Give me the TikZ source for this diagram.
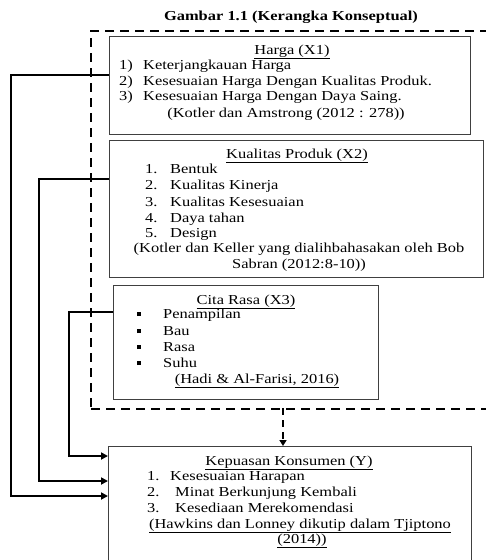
\documentclass[tikz,border=0pt]{standalone}
\usepackage{fontspec}
\setmainfont[FakeStretch=1.2]{Liberation Serif}
\usetikzlibrary{arrows.meta,calc}
\tikzset{
  box/.style={draw=black!75, line width=0.9pt, rectangle, inner sep=0pt, anchor=north west},
  grpbox/.style={draw=black, line width=2pt, dash pattern=on 9pt off 6pt, rectangle, inner sep=0pt, anchor=north west},
  conn/.style={draw=black, line width=2pt, -{Triangle[length=7pt,width=7pt]}},
  dconn/.style={draw=black, line width=2pt, dash pattern=on 7pt off 5pt, -{Triangle[length=6pt,width=7pt]}},
  tl/.style={inner sep=0pt, anchor=base west, font=\fontsize{13.7}{15.5}\selectfont},
  tc/.style={inner sep=0pt, anchor=base, font=\fontsize{13.7}{15.5}\selectfont},
}
\newcommand\bsq{\raisebox{1.8pt}{\rule{4pt}{4pt}}}
\begin{document}
\begin{tikzpicture}[x=1pt,y=-1pt]
\useasboundingbox (0,0) rectangle (486,560);
% partial heading glyph
\node[inner sep=0pt, anchor=base, font=\fontsize{32}{32}\selectfont] (hg) at (62,-12) {g};
\node[tc, font=\fontsize{13.7}{15.5}\selectfont\bfseries] (title) at (291,20) {Gambar 1.1 (Kerangka Konseptual)};
% dashed group
\node[grpbox, minimum width=430pt, minimum height=378pt] (grp) at (90,30) {};
% boxes
\node[box, fill=white, minimum width=361pt, minimum height=98pt] (harga) at (109,36) {};
\node[box, fill=white, minimum width=374pt, minimum height=137pt] (kp) at (109,140) {};
\node[box, fill=white, minimum width=265pt, minimum height=114pt] (cr) at (113,285) {};
\node[box, fill=white, minimum width=363pt, minimum height=140pt] (y) at (108,446) {};
% Harga text
\node[tc] (h0) at (292,54) {\underline{Harga (X1)}};
\node[tl] (h1n) at (119,69) {1)};
\node[tl] (h1) at (143,69) {Keterjangkauan Harga};
\node[tl] (h2n) at (119,85) {2)};
\node[tl] (h2) at (143,85) {Kesesuaian Harga Dengan Kualitas Produk.};
\node[tl] (h3n) at (119,100) {3)};
\node[tl] (h3) at (143,100) {Kesesuaian Harga Dengan Daya Saing.};
\node[tc] (h4) at (286,117) {(Kotler dan Amstrong (2012 : 278))};
% Kualitas Produk text
\node[tc] (k0) at (297,158) {\underline{Kualitas Produk (X2)}};
\node[tl] (k1n) at (145,173) {1.};
\node[tl] (k1) at (170,173) {Bentuk};
\node[tl] (k2n) at (145,189) {2.};
\node[tl] (k2) at (170,189) {Kualitas Kinerja};
\node[tl] (k3n) at (145,206) {3.};
\node[tl] (k3) at (170,206) {Kualitas Kesesuaian};
\node[tl] (k4n) at (145,222) {4.};
\node[tl] (k4) at (170,222) {Daya tahan};
\node[tl] (k5n) at (145,237) {5.};
\node[tl] (k5) at (170,237) {Design};
\node[tc] (k6) at (299,252) {(Kotler dan Keller yang dialihbahasakan oleh Bob};
\node[tc] (k7) at (299,268) {Sabran (2012:8-10))};
% Cita Rasa text
\node[tc] (c0) at (246,304) {\underline{Cita Rasa (X3)}};
\node[tl] (c1n) at (137,318) {\bsq};
\node[tl] (c1) at (163,318) {Penampilan};
\node[tl] (c2n) at (137,335) {\bsq};
\node[tl] (c2) at (163,335) {Bau};
\node[tl] (c3n) at (137,351) {\bsq};
\node[tl] (c3) at (163,351) {Rasa};
\node[tl] (c4n) at (137,367) {\bsq};
\node[tl] (c4) at (163,367) {Suhu};
\node[tc] (c5) at (257,383) {\underline{(Hadi \& Al-Farisi, 2016)}};
% Kepuasan text
\node[tc] (y0) at (289,465) {\underline{Kepuasan Konsumen (Y)}};
\node[tl] (y1n) at (147,480) {1.};
\node[tl] (y1) at (170,480) {Kesesuaian Harapan};
\node[tl] (y2n) at (147,496) {2.};
\node[tl] (y2) at (175,496) {Minat Berkunjung Kembali};
\node[tl] (y3n) at (147,512) {3.};
\node[tl] (y3) at (175,512) {Kesediaan Merekomendasi};
\node[tc] (y4) at (300,528) {\underline{(Hawkins dan Lonney dikutip dalam Tjiptono}};
\node[tc] (y5) at (302,543) {\underline{(2014))}};
% connectors
\coordinate (L1) at (11,75);
\coordinate (L2) at (39,179);
\coordinate (L3) at (69,312);
\draw[conn] ($(harga.north west)+(0,39)$) -- (L1) |- ($(y.north west)+(0,50)$);
\draw[conn] ($(kp.north west)+(0,39)$) -- (L2) |- ($(y.north west)+(0,35)$);
\draw[conn] ($(cr.north west)+(0,27)$) -- (L3) |- ($(y.north west)+(0,10)$);
\coordinate (dtop) at (283,408);
\draw[dconn] (dtop) -- (dtop |- y.north);
\end{tikzpicture}
\end{document}
